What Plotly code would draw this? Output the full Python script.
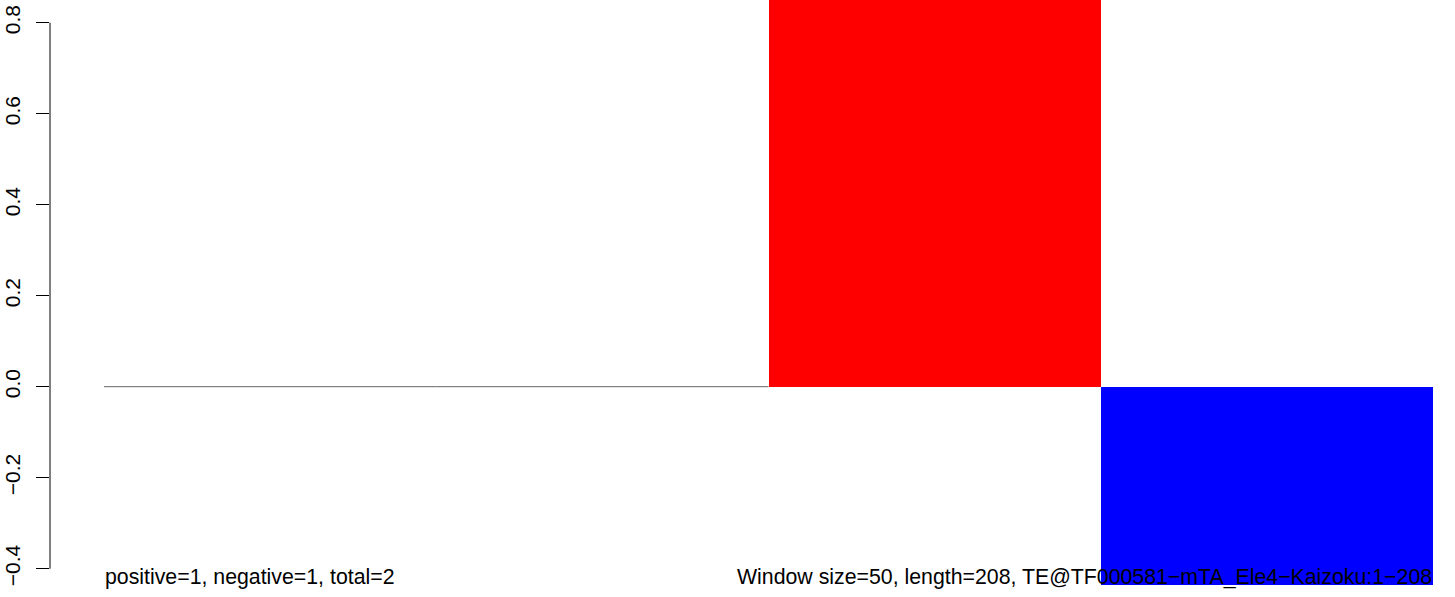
import plotly.graph_objects as go

# Data
window_starts = [0, 1, 2, 3]          # window index (bar left edges)
window_values = [0.0, 0.0, 1.0, -0.436]
bar_colors = ["#808080", "#808080", "#FF0000", "#0000FF"]
tick_vals = [-0.4, -0.2, 0.0, 0.2, 0.4, 0.6, 0.8]
tick_text = ["−0.4", "−0.2", "0.0", "0.2", "0.4", "0.6", "0.8"]
left_label = "positive=1, negative=1, total=2"
right_label = "Window size=50, length=208, TE@TF000581−mTA_Ele4−Kaizoku:1−208"

W, H = 1455, 597
FONT = "Liberation Sans, Arial, Helvetica, sans-serif"
FS = 21
FS_TXT = 21.3

centers = [s + 0.5 for s in window_starts]
fig = go.Figure()
fig.add_trace(go.Bar(
    x=centers, y=window_values, width=1.0,
    marker=dict(color=bar_colors, line=dict(width=0)),
    showlegend=False, hoverinfo="skip",
))
# zero-height windows drawn as a thin line
zero_x = []
for s, v in zip(window_starts, window_values):
    if v == 0:
        zero_x += [s, s + 1, None]
fig.add_trace(go.Scatter(
    x=zero_x, y=[0 if xx is not None else None for xx in zero_x],
    mode="lines", line=dict(color="#666666", width=1),
    showlegend=False, hoverinfo="skip", connectgaps=False,
))

px_per_x = 332.25
x0 = -(104 - 50) / px_per_x
x1 = 4 + (W - 1433) / px_per_x
px_per_y = 455.0
y_top = 386.7 / px_per_y
y_bot = -(H - 386.7) / px_per_y

fig.update_layout(
    width=W, height=H,
    margin=dict(l=50, r=0, t=0, b=0),
    paper_bgcolor="white", plot_bgcolor="white",
    font=dict(family=FONT, size=FS, color="black"),
    bargap=0,
    xaxis=dict(range=[x0, x1], visible=False, showgrid=False, zeroline=False),
    yaxis=dict(
        range=[y_bot, y_top], showgrid=False, zeroline=False, showline=False,
        tickmode="array", tickvals=tick_vals, ticktext=tick_text,
        ticks="outside", ticklen=13, tickwidth=1, tickcolor="black",
        tickangle=-90, ticklabelstandoff=8,
        tickfont=dict(family=FONT, size=FS, color="black"),
    ),
    shapes=[dict(type="line", xref="paper", yref="y", x0=0, x1=0,
                 y0=tick_vals[0], y1=tick_vals[-1],
                 line=dict(color="black", width=1))],
    annotations=[
        dict(text=left_label, x=window_starts[0], y=-0.418, xref="x", yref="y",
             xanchor="left", yanchor="middle", showarrow=False, borderpad=0,
             font=dict(family=FONT, size=FS_TXT, color="black")),
        dict(text=right_label, x=window_starts[-1] + 1, y=-0.418, xref="x", yref="y",
             xanchor="right", yanchor="middle", showarrow=False, borderpad=0,
             font=dict(family=FONT, size=FS_TXT, color="black")),
    ],
)

fig.write_html("out.html", config={"displayModeBar": False},
               post_script="document.body.style.margin='0';document.body.style.overflow='hidden';")
